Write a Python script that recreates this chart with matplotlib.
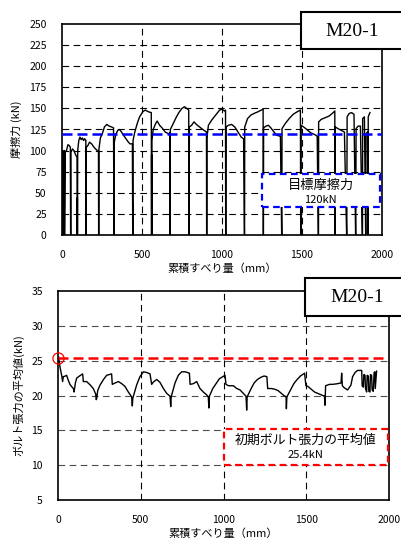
import matplotlib
matplotlib.use("Agg")
import matplotlib.pyplot as plt
from matplotlib.patches import Rectangle

plt.rcParams['font.family'] = ['Noto Sans CJK JP', 'DejaVu Sans']

# ---- data: friction force vs cumulative slip (top) ----
top_slip = [0, 0, 3, 3, 5, 5, 9, 9, 12, 12, 16, 16, 20, 28, 37, 45, 52, 54,
            55, 56, 65, 75, 85, 94, 96,
            96, 96, 97, 98, 105, 112, 120, 128, 135, 142, 149, 150,
            151, 152, 162, 172, 185, 200, 215, 228, 229, 229, 229,
            230, 231, 240, 252, 265, 280, 295, 310, 322, 325,
            326, 327, 335, 348, 360, 372, 385, 400, 415, 425, 440, 442, 442, 442,
            443, 444, 455, 470, 485, 505, 520, 540, 558, 560, 560, 560,
            561, 562, 570, 585, 595, 610, 625, 645, 665, 674, 675,
            676, 677, 690, 710, 730, 750, 765, 780, 792, 794,
            795, 796, 810, 825, 840, 860, 880, 895, 903, 904,
            905, 906, 915, 935, 960, 985, 1000, 1015, 1022, 1023,
            1024, 1025, 1040, 1060, 1080, 1100, 1120, 1135, 1140,
            1141, 1142, 1160, 1180, 1200, 1225, 1245, 1257, 1258,
            1259, 1260, 1275, 1290, 1305, 1325, 1345, 1365, 1373,
            1374, 1375, 1395, 1420, 1445, 1470, 1490, 1492,
            1493, 1494, 1510, 1530, 1555, 1580, 1595, 1602,
            1603, 1604, 1620, 1645, 1670, 1695, 1705, 1706,
            1707, 1708, 1725, 1745, 1765, 1779,
            1780, 1782, 1795, 1810, 1825, 1835,
            1836, 1838, 1850, 1865, 1877,
            1878, 1879, 1890, 1898,
            1899, 1900, 1910, 1912,
            1913, 1914, 1920, 1925]
top_force = [0, 100, 100, 0, 0, 98, 98, 0, 0, 100, 100, 0, 98, 100, 107, 106, 104, 0,
             0, 98, 102, 100, 95, 92, 0,
             44, 0, 0, 100, 112, 116, 113, 115, 112, 114, 112, 0,
             0, 104, 106, 110, 108, 104, 101, 99, 0, 67, 0,
             0, 102, 115, 120, 128, 131, 129, 128, 127, 0,
             0, 110, 118, 124, 125, 122, 118, 114, 110, 108, 108, 0, 38, 0,
             0, 112, 122, 132, 140, 146, 148, 146, 145, 0, 95, 0,
             0, 112, 125, 132, 135, 130, 127, 122, 120, 121, 0,
             0, 125, 130, 138, 145, 150, 152, 150, 148, 0,
             0, 128, 130, 134, 131, 128, 125, 123, 122, 0,
             0, 115, 130, 136, 142, 148, 149, 147, 148, 0,
             0, 128, 130, 131, 128, 122, 116, 114, 0,
             0, 128, 138, 142, 144, 146, 148, 149, 0,
             0, 127, 129, 130, 127, 122, 118, 117, 0,
             0, 126, 132, 138, 143, 146, 148, 0,
             0, 130, 128, 125, 121, 119, 117, 0,
             0, 134, 137, 139, 141, 145, 147, 0,
             0, 128, 126, 124, 122, 0,
             0, 140, 144, 145, 143, 0,
             0, 126, 129, 129, 0,
             0, 138, 140, 0,
             0, 120, 122, 0,
             0, 140, 143, 145]

# ---- data: mean bolt tension vs cumulative slip (bottom) ----
bot_slip = [4, 12, 22, 28, 32, 45, 52, 62, 72, 85, 93, 97, 105, 113, 130, 149, 153,
            165, 173, 195, 213, 228, 231, 234, 240, 254, 275, 294, 310, 324, 328,
            345, 365, 385, 405, 425, 445, 449, 452, 475, 495, 516, 536, 556, 566,
            575, 596, 616, 637, 657, 677, 681, 684, 707, 727, 747, 770, 794, 798,
            818, 838, 858, 878, 898, 908, 912, 915, 935, 955, 975, 995, 1009, 1015,
            1030, 1060, 1080, 1100, 1120, 1136, 1140, 1143, 1165, 1185, 1205, 1225,
            1245, 1262, 1267, 1290, 1310, 1330, 1350, 1365, 1378, 1380, 1383, 1405,
            1425, 1445, 1465, 1490, 1498, 1510, 1530, 1550, 1580, 1610, 1613, 1617,
            1640, 1660, 1690, 1710, 1714, 1718, 1730, 1750, 1770, 1780, 1795, 1810,
            1835, 1838, 1845, 1848, 1855, 1858, 1865, 1868, 1875, 1878, 1885, 1888,
            1895, 1898, 1905, 1910, 1915, 1917, 1925]
bot_tension = [25.5, 24.1, 22.9, 22.0, 22.7, 22.8, 22.9, 22.2, 21.6, 21.2, 21.0, 20.5,
               21.8, 22.5, 22.8, 23.1, 22.0,
               22.0, 22.0, 21.5, 21.0, 20.2, 19.4, 19.6, 20.7, 21.5, 22.3, 22.9, 23.0,
               23.1, 21.6,
               21.8, 22.0, 21.7, 21.3, 20.5, 19.8, 18.5, 19.6, 21.5, 22.7, 23.4, 23.3,
               23.1, 21.6,
               21.9, 22.3, 21.9, 21.0, 20.3, 19.9, 18.4, 19.8, 21.8, 22.9, 23.4, 23.4,
               23.2, 21.6,
               21.7, 22.0, 21.0, 20.5, 20.1, 19.8, 18.2, 19.9, 21.0, 21.7, 22.4, 22.7,
               22.9, 21.6,
               21.4, 21.4, 21.0, 20.8, 20.3, 19.9, 17.9, 19.8, 20.9, 21.8, 22.3, 22.6,
               22.8, 22.7, 21.0, 21.0, 20.9, 20.7, 20.3, 20.0, 19.8, 18.1, 19.8, 20.8,
               21.7, 22.3, 22.8, 23.2, 21.4, 21.3, 20.9, 20.5, 20.2, 19.9, 18.6, 21.4,
               21.6, 21.6, 21.7, 21.8, 23.2, 21.4, 21.1, 20.8, 21.5, 22.7, 23.3, 23.6,
               23.6, 21.4, 21.2, 23.0, 22.9, 21.0, 20.5, 22.9, 22.8, 20.6, 20.5, 23.0,
               22.9, 20.8, 20.6, 23.3, 23.4, 21.0, 23.5]

x_ticks = [0, 500, 1000, 1500, 2000]
top_yticks = [0, 25, 50, 75, 100, 125, 150, 175, 200, 225, 250]
bot_yticks = [5, 10, 15, 20, 25, 30, 35]
target_force = 120
initial_tension = 25.4

W, H = 401, 540
fig = plt.figure(figsize=(W / 100, H / 100), dpi=100)

def frac(x0, y0, x1, y1):
    return [x0 / W, 1 - y1 / H, (x1 - x0) / W, (y1 - y0) / H]

ax1 = fig.add_axes(frac(62, 24, 382, 235))
ax2 = fig.add_axes(frac(58, 291, 389, 500))

grid_kw = dict(color='black', linewidth=0.8, dashes=(6, 4))
for ax in (ax1, ax2):
    ax.set_xlim(0, 2000)
    ax.set_xticks(x_ticks)
    ax.tick_params(length=0, labelsize=7.5, pad=11)
    for s in ax.spines.values():
        s.set_linewidth(1.2)
        s.set_color('black')
    ax.set_xlabel('累積すべり量（mm）', fontsize=8, labelpad=2)

# top chart
ax1.set_ylim(0, 250)
ax1.set_yticks(top_yticks)
for v in top_yticks[1:-1]:
    ax1.axhline(v, zorder=1, **grid_kw)
for v in x_ticks[1:-1]:
    ax1.axvline(v, zorder=1, **grid_kw)
ax1.plot(top_slip, top_force, color='black', linewidth=1.0, zorder=3)
ax1.axhline(target_force, color='#0000ff', linewidth=1.8, dashes=(4, 2), zorder=4)
ax1.add_patch(Rectangle((1250, 33), 737, 39, facecolor='white', edgecolor='#0000ff',
                        linewidth=1.6, linestyle=(0, (3, 2)), zorder=5))
ax1.text(1618, 59, '目標摩擦力', ha='center', va='center', fontsize=9.5, zorder=6)
ax1.text(1618, 42, '120kN', ha='center', va='center', fontsize=8, zorder=6)
ax1.set_ylabel('摩擦力 (kN)', fontsize=8, labelpad=5)

# bottom chart
ax2.set_ylim(5, 35)
ax2.set_yticks(bot_yticks)
for v in bot_yticks[1:-1]:
    ax2.axhline(v, zorder=1, **dict(grid_kw, color='0.3'))
for v in x_ticks[1:-1]:
    ax2.axvline(v, zorder=1, **grid_kw)
ax2.plot(bot_slip, bot_tension, color='black', linewidth=1.0, zorder=3)
ax2.plot([0, 1980], [initial_tension, initial_tension], color='#ff0000', linewidth=1.8,
         dashes=(4, 2), zorder=4)
ax2.plot([0], [initial_tension], marker='o', markersize=8, markerfacecolor='none',
         markeredgecolor='#ff0000', markeredgewidth=0.9, clip_on=False, zorder=6)
ax2.add_patch(Rectangle((1000, 10.0), 994, 5.2, facecolor='white', edgecolor='#ff0000',
                        linewidth=1.6, linestyle=(0, (3, 2)), zorder=5))
ax2.text(1497, 13.6, '初期ボルト張力の平均値', ha='center', va='center', fontsize=9.3, zorder=6)
ax2.text(1497, 11.4, '25.4kN', ha='center', va='center', fontsize=8, zorder=6)
ax2.set_ylabel('ボルト張力の平均値(kN)', fontsize=8, labelpad=5)

# label boxes
for (x0, y0, x1, y1) in [(301, 12, 410, 49), (305, 278, 410, 316)]:
    fig.add_artist(Rectangle((x0 / W, 1 - y1 / H), (x1 - x0) / W, (y1 - y0) / H,
                             transform=fig.transFigure, facecolor='white',
                             edgecolor='black', linewidth=1.5, zorder=10))
fig.text(352 / W, 1 - 32 / H, 'M20-1', ha='center', va='center', fontsize=14,
         family='Liberation Serif', zorder=11)
fig.text(357 / W, 1 - 298 / H, 'M20-1', ha='center', va='center', fontsize=14,
         family='Liberation Serif', zorder=11)

fig.savefig('out.png', dpi=100)
